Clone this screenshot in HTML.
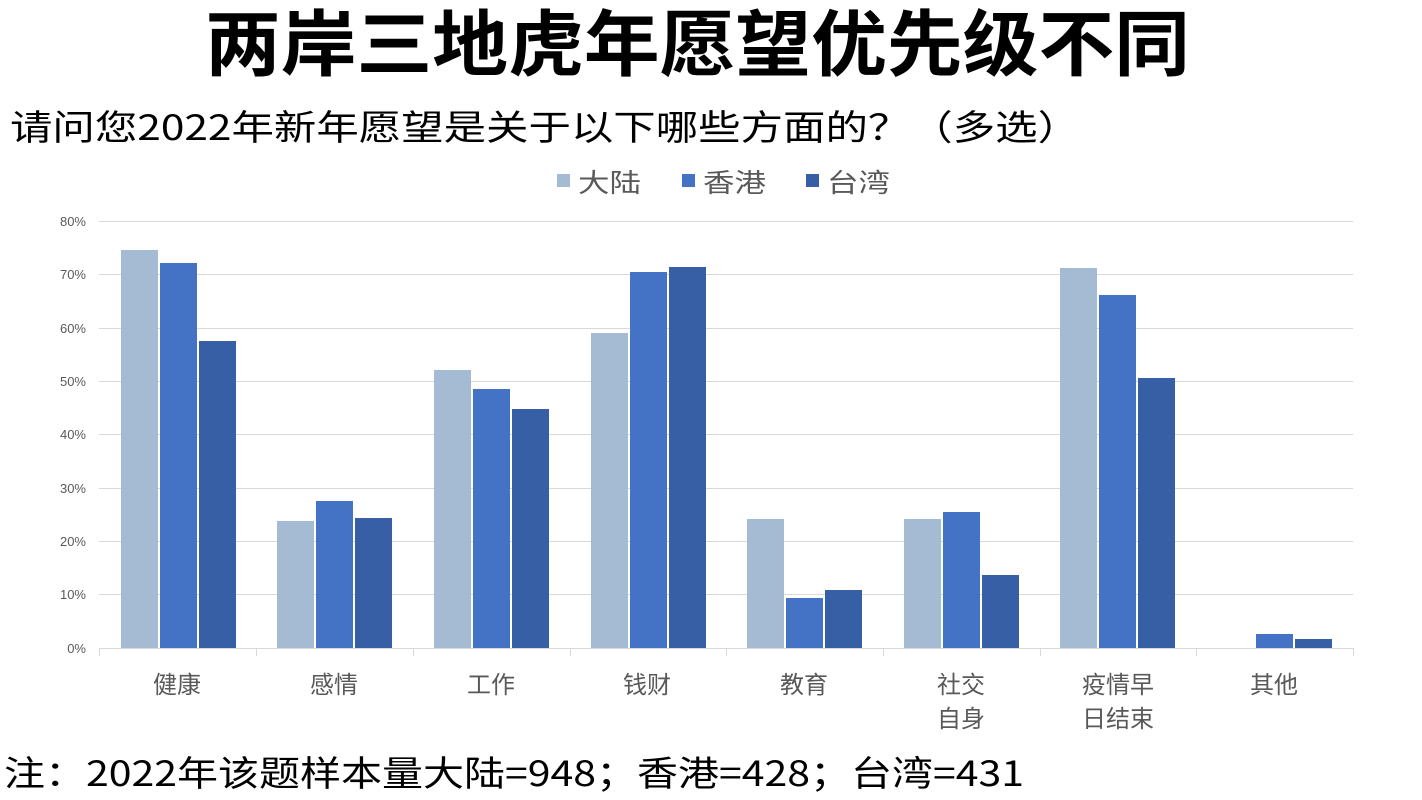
<!DOCTYPE html>
<html><head><meta charset="utf-8"><style>
html,body{margin:0;padding:0;background:#fff;}
svg{display:block;}
</style></head><body>
<svg width="1422" height="800" xmlns="http://www.w3.org/2000/svg" font-family="'Liberation Sans','Noto Sans CJK SC',sans-serif">
<text x="205" y="70" font-size="72" font-weight="bold" fill="#000" font-family="'Noto Sans CJK SC',sans-serif" textLength="985" lengthAdjust="spacingAndGlyphs">两岸三地虎年愿望优先级不同</text>
<text x="10" y="140" font-size="35" fill="#000" font-family="'Noto Sans CJK SC',sans-serif" textLength="1070" lengthAdjust="spacingAndGlyphs">请问您2022年新年愿望是关于以下哪些方面的？（多选）</text>
<g font-size="26" fill="#595959">
<rect x="557" y="174" width="13" height="13" fill="#A5BAD3"/><text x="578" y="192" textLength="63" lengthAdjust="spacingAndGlyphs">大陆</text>
<rect x="682" y="174" width="13" height="13" fill="#4472C4"/><text x="703" y="192" textLength="63" lengthAdjust="spacingAndGlyphs">香港</text>
<rect x="806" y="174" width="13" height="13" fill="#365FA5"/><text x="827" y="192" textLength="63" lengthAdjust="spacingAndGlyphs">台湾</text>
</g>
<g stroke="#d9d9d9" stroke-width="1">
<line x1="99" x2="1353" y1="221.5" y2="221.5"/>
<line x1="99" x2="1353" y1="274.5" y2="274.5"/>
<line x1="99" x2="1353" y1="328.5" y2="328.5"/>
<line x1="99" x2="1353" y1="381.5" y2="381.5"/>
<line x1="99" x2="1353" y1="434.5" y2="434.5"/>
<line x1="99" x2="1353" y1="488.5" y2="488.5"/>
<line x1="99" x2="1353" y1="541.5" y2="541.5"/>
<line x1="99" x2="1353" y1="594.5" y2="594.5"/>
<line x1="99" x2="1353" y1="648.5" y2="648.5"/>
<line x1="99.5" x2="99.5" y1="648" y2="656"/>
<line x1="256.5" x2="256.5" y1="648" y2="656"/>
<line x1="413.5" x2="413.5" y1="648" y2="656"/>
<line x1="570.5" x2="570.5" y1="648" y2="656"/>
<line x1="726.5" x2="726.5" y1="648" y2="656"/>
<line x1="883.5" x2="883.5" y1="648" y2="656"/>
<line x1="1040.5" x2="1040.5" y1="648" y2="656"/>
<line x1="1196.5" x2="1196.5" y1="648" y2="656"/>
<line x1="1353.5" x2="1353.5" y1="648" y2="656"/>
</g>
<g font-size="13" fill="#595959" text-anchor="end">
<text x="86" y="226">80%</text><text x="86" y="279">70%</text><text x="86" y="333">60%</text><text x="86" y="386">50%</text><text x="86" y="439">40%</text><text x="86" y="493">30%</text><text x="86" y="546">20%</text><text x="86" y="599">10%</text><text x="86" y="653">0%</text>
</g>
<g>
<rect x="121" y="250" width="37" height="398" fill="#A5BAD3"/><rect x="160" y="263" width="37" height="385" fill="#4472C4"/><rect x="199" y="341" width="37" height="307" fill="#365FA5"/>
<rect x="277" y="521" width="37" height="127" fill="#A5BAD3"/><rect x="316" y="501" width="37" height="147" fill="#4472C4"/><rect x="355" y="518" width="37" height="130" fill="#365FA5"/>
<rect x="434" y="370" width="37" height="278" fill="#A5BAD3"/><rect x="473" y="389" width="37" height="259" fill="#4472C4"/><rect x="512" y="409" width="37" height="239" fill="#365FA5"/>
<rect x="591" y="333" width="37" height="315" fill="#A5BAD3"/><rect x="630" y="272" width="37" height="376" fill="#4472C4"/><rect x="669" y="267" width="37" height="381" fill="#365FA5"/>
<rect x="747" y="519" width="37" height="129" fill="#A5BAD3"/><rect x="786" y="598" width="37" height="50" fill="#4472C4"/><rect x="825" y="590" width="37" height="58" fill="#365FA5"/>
<rect x="904" y="519" width="37" height="129" fill="#A5BAD3"/><rect x="943" y="512" width="37" height="136" fill="#4472C4"/><rect x="982" y="575" width="37" height="73" fill="#365FA5"/>
<rect x="1060" y="268" width="37" height="380" fill="#A5BAD3"/><rect x="1099" y="295" width="37" height="353" fill="#4472C4"/><rect x="1138" y="378" width="37" height="270" fill="#365FA5"/>
<rect x="1256" y="634" width="37" height="14" fill="#4472C4"/><rect x="1295" y="639" width="37" height="9" fill="#365FA5"/>
</g>
<g font-size="24" fill="#595959" text-anchor="middle">
<text x="177" y="693">健康</text><text x="334" y="693">感情</text><text x="491" y="693">工作</text><text x="647" y="693">钱财</text><text x="804" y="693">教育</text>
<text x="961" y="693">社交</text><text x="961" y="727">自身</text>
<text x="1118" y="693">疫情早</text><text x="1118" y="727">日结束</text>
<text x="1274" y="693">其他</text>
</g>
<text x="4" y="786" font-size="35" fill="#000" font-family="'Noto Sans CJK SC',sans-serif" textLength="1020" lengthAdjust="spacingAndGlyphs">注：2022年该题样本量大陆=948；香港=428；台湾=431</text>
</svg>
</body></html>
